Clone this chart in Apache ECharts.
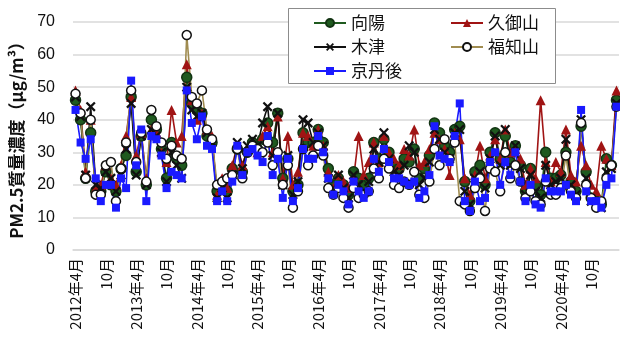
<!DOCTYPE html>
<html>
<head>
<meta charset="utf-8">
<script src="https://cdn.jsdelivr.net/npm/echarts@6/dist/echarts.min.js"></script>
<style>
  html, body { margin: 0; padding: 0; background: #fff; }
  #chart { width: 620px; height: 354px; }
</style>
</head>
<body>
<div id="chart"></div>
<script>
// monthly means, 2012-04 .. 2021-03
const startYear = 2012;
const startMonth = 4;
const monthCount = 108;

const yTicks = [0, 10, 20, 30, 40, 50, 60, 70];

const mukaihi = [
  46, 40, 22, 36, 18, 18, 24, 20, 18, 25, 29, 47,
  24, 35, 20, 40, 37, 31, 22, 33, 28, 26, 53, 45,
  43, 42, 35, 33, 18, 20, 18, 25, 31, 24, 30, 33,
  31, 34, 39, 33, 42, 22, 28, 18, 20, 36, 33, 33,
  37, 33, 25, 20, 22, 20, 17, 24, 22, 20, 22, 33,
  28, 34, 30, 26, 25, 28, 27, 31, 22, 25, 29, 39,
  36, 32, 30, 37, 38, 21, 15, 24, 26, 20, 30, 36,
  28, 35, 27, 32, 26, 18, 25, 20, 17, 30, 22, 22,
  23, 30, 21, 18, 38, 24, 16, 15, 14, 28, 26, 46
];
const kumiyama = [
  49, 43, 24, 40, 19, 20, 26, 22, 20, 26, 35, 47,
  29, 36, 22, 37, 36, 30, 27, 43, 33, 35, 57, 46,
  40, 42, 37, 35, 17, 22, 19, 26, 32, 26, 31, 32,
  30, 35, 38, 30, 41, 22, 35, 20, 24, 36, 35, 32,
  37, 32, 24, 19, 23, 21, 19, 22, 35, 23, 27, 33,
  27, 35, 30, 28, 26, 31, 29, 37, 26, 27, 31, 36,
  34, 31, 23, 36, 34, 22, 17, 23, 32, 22, 29, 34,
  28, 37, 30, 31, 28, 20, 25, 22, 46, 27, 21, 27,
  24, 37, 23, 21, 32, 26, 20, 18, 32, 28, 26, 49
];
const kizu = [
  47, 41, 23, 44, 20, 19, 24, 22, 18, 23, 31, 45,
  23, 35, 20, 37, 35, 30, 21, 30, 26, 22, 50, 43,
  41, 42, 36, 33, 16, 19, 16, 23, 33, 25, 32, 34,
  32, 39, 44, 29, 42, 20, 29, 17, 21, 40, 39, 33,
  36, 32, 22, 18, 23, 19, 16, 23, 20, 18, 21, 31,
  27, 36, 28, 24, 23, 26, 32, 30, 20, 22, 27, 37,
  34, 30, 28, 36, 37, 18, 14, 22, 24, 19, 28, 35,
  26, 37, 26, 32, 25, 17, 23, 18, 16, 26, 20, 21,
  22, 34, 20, 17, 40, 22, 15, 14, 13, 24, 25, 45
];
const fukuchiyama = [
  48, 42, 22, 40, 17, 17, 26, 27, 15, 25, 33, 49,
  27, 36, 21, 43, 38, 33, 28, 32, 29, 28, 66, 47,
  45, 49, 37, 34, 20, 21, 22, 23, 31, 22, 30, 32,
  31, 30, 33, 26, 30, 20, 26, 13, 18, 31, 26, 29,
  32, 29, 19, 17, 19, 16, 13, 19, 16, 17, 18, 25,
  22, 28, 25, 20, 19, 21, 20, 24, 17, 16, 21, 31,
  26, 34, 28, 33, 15, 14, 12, 19, 22, 12, 25, 24,
  18, 30, 22, 26, 21, 16, 18, 15, 14, 21, 17, 17,
  19, 29, 18, 16, 39, 20, 16, 13, 15, 22, 26, 44
];
const kyotango = [
  43, 33, 28, 34, 22, 15, 20, 20, 13, 22, 19, 52,
  26, 37, 15, 35, 34, 29, 19, 24, 23, 22, 49, 39,
  34, 41, 32, 31, 15, 18, 15, 21, 32, 23, 30, 31,
  29, 27, 35, 23, 28, 16, 28, 15, 19, 31, 28, 28,
  35, 30, 22, 17, 20, 18, 14, 21, 18, 16, 18, 28,
  24, 31, 27, 22, 22, 21, 20, 21, 16, 18, 23, 38,
  29, 28, 27, 35, 45, 15, 12, 21, 15, 16, 27, 30,
  20, 27, 23, 30, 21, 15, 20, 14, 13, 22, 18, 18,
  18, 20, 17, 15, 43, 18, 15, 15, 13, 20, 22, 44
];

const months = [];
for (let i = 0; i < monthCount; i++) {
  const m = (startMonth - 1 + i) % 12 + 1;
  const y = startYear + Math.floor((startMonth - 1 + i) / 12);
  months.push(y + '年' + m + '月');
}

const xMark = 'path://M0,1.6L1.6,0L5,3.4L8.4,0L10,1.6L6.6,5L10,8.4L8.4,10L5,6.6L1.6,10L0,8.4L3.4,5Z';
const jp = '"Noto Sans CJK JP", "Liberation Sans", sans-serif';

const chart = echarts.init(document.getElementById('chart'));

function lineSeries(name, data, lineColor, symbol, size, fill, border) {
  return {
    name: name,
    type: 'line',
    data: data,
    symbol: symbol,
    symbolSize: size,
    showAllSymbol: true,
    lineStyle: { color: lineColor, width: 1.6 },
    itemStyle: { color: fill, borderColor: border || fill, borderWidth: border ? 1.5 : 0 },
    emphasis: { disabled: true }
  };
}

const option = {
  animation: false,
  grid: { left: 72, right: 1, top: 22, bottom: 104 },
  graphic: [{
    type: 'rect',
    z: 50,
    shape: { x: 288.5, y: 8.5, width: 267, height: 75 },
    style: { fill: '#fff', stroke: '#8c8c8c', lineWidth: 1 }
  }],
  legend: [
    {
      z: 60,
      orient: 'vertical',
      left: 313,
      top: 13,
      padding: 0,
      itemGap: 4,
      itemWidth: 32,
      itemHeight: 10,
      textStyle: { fontFamily: jp, fontSize: 17, color: '#111', lineHeight: 20 },
      data: ['向陽', '木津', '京丹後']
    },
    {
      z: 60,
      orient: 'vertical',
      left: 450,
      top: 13,
      padding: 0,
      itemGap: 4,
      itemWidth: 32,
      itemHeight: 10,
      textStyle: { fontFamily: jp, fontSize: 17, color: '#111', lineHeight: 20 },
      data: ['久御山', '福知山']
    }
  ],
  xAxis: {
    type: 'category',
    data: months,
    axisTick: { show: false },
    axisLine: { lineStyle: { color: '#d9d9d9', width: 1.5 } },
    axisLabel: {
      interval: function (index) { return index % 6 === 0; },
      rotate: 90,
      margin: 8,
      fontSize: 15,
      fontFamily: jp,
      color: '#111',
      formatter: function (v) { return v.indexOf('年4月') > 0 ? v : v.replace(/^\d+年/, ''); }
    }
  },
  yAxis: {
    type: 'value',
    min: yTicks[0],
    max: yTicks[yTicks.length - 1],
    interval: 10,
    name: 'PM2.5質量濃度（μg/m³）',
    nameLocation: 'middle',
    nameGap: 48,
    nameTextStyle: { fontFamily: jp, fontSize: 17, fontWeight: 'bold', color: '#111' },
    axisLine: { show: false },
    axisTick: { show: false },
    axisLabel: { fontSize: 16, color: '#111', margin: 18, fontFamily: '"Liberation Sans", Arial, sans-serif' },
    splitLine: { lineStyle: { color: '#d9d9d9', width: 1.5 } }
  },
  series: [
    lineSeries('向陽', mukaihi, '#1f5a1f', 'circle', 10, '#1f5a1f', '#123312'),
    lineSeries('久御山', kumiyama, '#a01414', 'triangle', 10, '#a01414', null),
    lineSeries('木津', kizu, '#111', xMark, 10, '#111', null),
    lineSeries('福知山', fukuchiyama, '#a08c50', 'circle', 9, '#fff', '#111'),
    lineSeries('京丹後', kyotango, '#1a1aff', 'rect', 8, '#1a1aff', null)
  ]
};

chart.setOption(option);
window.addEventListener('resize', function () { chart.resize(); });
</script>
</body>
</html>
